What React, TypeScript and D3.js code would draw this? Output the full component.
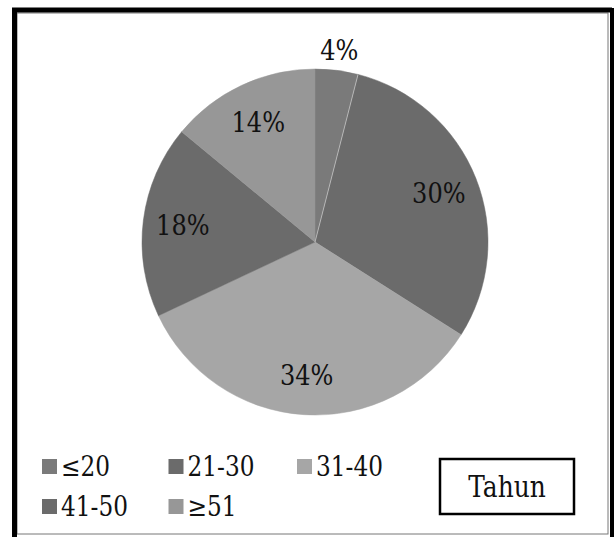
import React from "react";
import * as d3 from "d3";

// data
const categories = ["≤20", "21-30", "31-40", "41-50", "≥51"];
const values = [4, 30, 34, 18, 14];
const colors = ["#7a7a7a", "#6b6b6b", "#a6a6a6", "#6b6b6b", "#979797"];
const legendTitle = "Tahun";

const W = 614;
const H = 537;
const cx = 315;
const cy = 242;
const r = 173;
const font = "'DejaVu Serif', 'Liberation Serif', serif";
const squeeze = 0.86; // DejaVu Serif is wider than Times

type LabelProps = {
	x: number;
	y: number;
	size: number;
	anchor?: "start" | "middle" | "end";
	dy?: string;
	children: React.ReactNode;
};

const Label = ({ x, y, size, anchor = "start", dy, children }: LabelProps) => (
	<text
		transform={`translate(${x},${y}) scale(${squeeze},1)`}
		dy={dy}
		textAnchor={anchor}
		fontFamily={font}
		fontSize={size}
		fill="#111"
	>
		{children}
	</text>
);

export default function App() {
	const pie = d3
		.pie<number>()
		.sort(null)
		.value((d) => d);
	const arcs = pie(values);
	const arc = d3.arc<d3.PieArcDatum<number>>().innerRadius(0).outerRadius(r);
	const inner = d3
		.arc<d3.PieArcDatum<number>>()
		.innerRadius(r * 0.77)
		.outerRadius(r * 0.77);
	const outer = d3
		.arc<d3.PieArcDatum<number>>()
		.innerRadius(r * 1.12)
		.outerRadius(r * 1.12);

	// pale hairline after the first slice
	const sepAngle = arcs[0].endAngle;

	// legend layout: 3 per row
	const legendX = d3.scalePoint<number>().domain([0, 1, 2]).range([42, 297]);
	const legendY = d3.scalePoint<number>().domain([0, 1]).range([459, 499]);

	return (
		<svg
			width={W}
			height={H}
			style={{ position: "absolute", left: 0, top: 0, background: "#fff" }}
		>
			{/* frame */}
			<rect x={17} y={13} width={591} height={521} fill="none" stroke="#777" strokeWidth={1} />
			<path d={`M14.5,537 V10 H612`} fill="none" stroke="#000" strokeWidth={5} />
			<line x1={612} y1={8} x2={612} y2={537} stroke="#000" strokeWidth={4} />

			<g transform={`translate(${cx},${cy})`}>
				{arcs.map((a, i) => (
					<path key={i} d={arc(a) || ""} fill={colors[i]} stroke={colors[i]} strokeWidth={0.5} />
				))}
				<line
					x1={0}
					y1={0}
					x2={r * Math.sin(sepAngle)}
					y2={-r * Math.cos(sepAngle)}
					stroke="#c8c8c8"
					strokeWidth={0.8}
				/>
				{arcs.map((a, i) => {
					const [x, y] = a.data < 5 ? outer.centroid(a) : inner.centroid(a);
					return (
						<Label key={i} x={x} y={y} dy="0.36em" anchor="middle" size={28}>
							{a.data}%
						</Label>
					);
				})}
			</g>

			{/* legend */}
			{categories.map((c, i) => {
				const col = i % 3;
				const row = Math.floor(i / 3);
				const x = (legendX(col) ?? 0) - (col === 1 ? 1 : 0);
				const y = legendY(row) ?? 0;
				return (
					<g key={c}>
						<rect x={x} y={y} width={15} height={15} fill={colors[i]} />
						<Label x={x + 19} y={y + 17} size={27}>
							{c}
						</Label>
					</g>
				);
			})}

			<rect x={440} y={459} width={134} height={55} fill="#fff" stroke="#000" strokeWidth={2.5} />
			<Label x={507} y={497} anchor="middle" size={29}>
				{legendTitle}
			</Label>
		</svg>
	);
}
